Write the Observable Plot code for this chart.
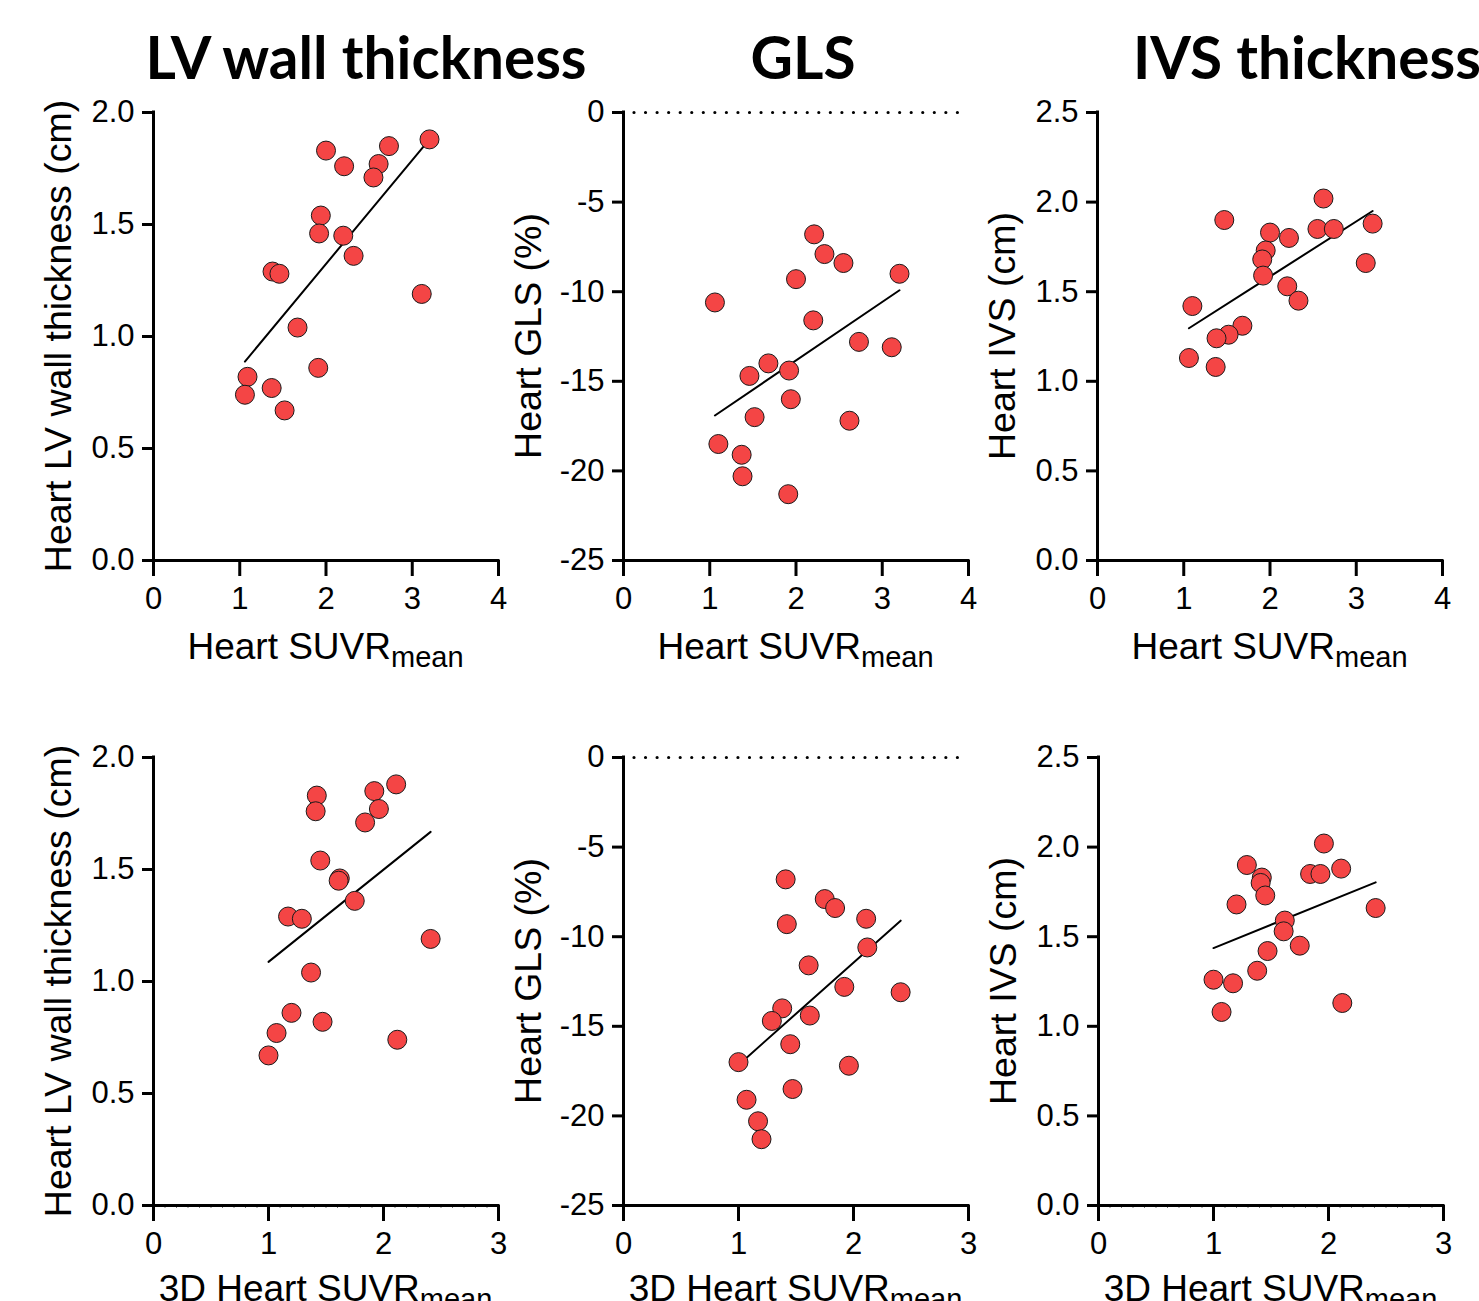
<!DOCTYPE html>
<html>
<head>
<meta charset="utf-8">
<script src="https://cdn.jsdelivr.net/npm/d3@7"></script>
<script src="https://cdn.jsdelivr.net/npm/@observablehq/plot@0.6"></script>
<style>
  body { margin: 0; background: #fff; }
  #root { position: relative; width: 1479px; height: 1301px; overflow: hidden; background: #fff; }
  .panel { position: absolute; }
  #titles { position: absolute; left: 0; top: 0; }
</style>
</head>
<body>
<div id="root"></div>
<script>
// ---------- Data ----------
// Top row: Heart SUVRmean
const suvrLV = [2.00, 2.21, 2.73, 2.61, 2.55, 3.20, 1.94, 1.92, 2.20, 2.32, 1.38, 1.46, 3.11, 1.67, 1.91, 1.09, 1.06, 1.37, 1.52];
const lvWall = [1.83, 1.76, 1.85, 1.77, 1.71, 1.88, 1.54, 1.46, 1.45, 1.36, 1.29, 1.28, 1.19, 1.04, 0.86, 0.82, 0.74, 0.77, 0.67];

const suvrGLS = [2.21, 2.33, 2.55, 3.20, 2.00, 1.06, 2.20, 2.73, 3.11, 1.68, 1.46, 1.92, 1.94, 1.52, 2.62, 1.10, 1.37, 1.38, 1.91];
const gls     = [-6.8, -7.9, -8.4, -9.0, -9.3, -10.6, -11.6, -12.8, -13.1, -14.0, -14.7, -14.4, -16.0, -17.0, -17.2, -18.5, -19.1, -20.3, -21.3];

const suvrIVS = [2.62, 1.47, 3.19, 2.55, 2.74, 2.00, 2.22, 1.95, 1.91, 3.11, 1.92, 2.20, 2.33, 1.10, 1.68, 1.52, 1.38, 1.06, 1.37];
const ivs     = [2.02, 1.90, 1.88, 1.85, 1.85, 1.83, 1.80, 1.73, 1.68, 1.66, 1.59, 1.53, 1.45, 1.42, 1.31, 1.26, 1.24, 1.13, 1.08];

// Bottom row: 3D Heart SUVRmean
const suvr3dLV = [2.11, 1.42, 1.92, 1.41, 1.96, 1.84, 1.45, 1.62, 1.61, 1.75, 1.17, 1.29, 2.41, 1.37, 1.20, 1.47, 1.07, 2.12, 1.00];
const lvWall3d = [1.88, 1.83, 1.85, 1.76, 1.77, 1.71, 1.54, 1.46, 1.45, 1.36, 1.29, 1.28, 1.19, 1.04, 0.86, 0.82, 0.77, 0.74, 0.67];

const suvr3dGLS = [1.41, 1.75, 1.84, 2.11, 1.42, 2.12, 1.61, 1.92, 2.41, 1.38, 1.29, 1.62, 1.45, 1.00, 1.96, 1.47, 1.07, 1.17, 1.20];
const gls3d     = [-6.8, -7.9, -8.4, -9.0, -9.3, -10.6, -11.6, -12.8, -13.1, -14.0, -14.7, -14.4, -16.0, -17.0, -17.2, -18.5, -19.1, -20.3, -21.3];

const suvr3dIVS = [1.96, 1.29, 2.11, 1.84, 1.93, 1.42, 1.41, 1.45, 1.20, 2.41, 1.62, 1.61, 1.75, 1.47, 1.38, 1.00, 1.17, 2.12, 1.07];
const ivs3d     = [2.02, 1.90, 1.88, 1.85, 1.85, 1.83, 1.80, 1.73, 1.68, 1.66, 1.59, 1.53, 1.45, 1.42, 1.31, 1.26, 1.24, 1.13, 1.08];

// Titles and ticks
const columnTitles = ["LV wall thickness", "GLS", "IVS thickness"];
const yLabels = ["Heart LV wall thickness (cm)", "Heart GLS (%)", "Heart IVS (cm)"];
const xLabelTop = "Heart SUVR";
const xLabelBottom = "3D Heart SUVR";
const xSub = "mean";
const xTicksTop = [0, 1, 2, 3, 4];
const xTicksBottom = [0, 1, 2, 3];
const minorTicksBottom = [0.1,0.2,0.3,0.4,0.5,0.6,0.7,0.8,0.9,1.1,1.2,1.3,1.4,1.5,1.6,1.7,1.8,1.9,2.1,2.2,2.3,2.4,2.5,2.6,2.7,2.8,2.9];
const yTicksLV = [0, 0.5, 1.0, 1.5, 2.0];
const yTicksGLS = [-25, -20, -15, -10, -5, 0];
const yTicksIVS = [0, 0.5, 1.0, 1.5, 2.0, 2.5];

// ---------- Rendering ----------
const root = document.getElementById("root");
const W = 520, ML = 153, MR = 22, MT = 22;
const FONT = "'Liberation Sans', Arial, Helvetica, sans-serif";

function makePanel(cfg) {
  const data = cfg.x.map((v, i) => ({x: v, y: cfg.y[i]}));
  const marks = [];
  if (cfg.zeroLine) {
    marks.push(Plot.ruleY([0], {stroke: "black", strokeWidth: 3.2, strokeDasharray: "0 11.55", strokeLinecap: "round", insetLeft: 11, insetRight: 9}));
  }
  marks.push(Plot.linearRegressionY(data, {x: "x", y: "y", ci: 0, stroke: "black", strokeWidth: 2}));
  if (cfg.minorTicks) {
    marks.push(Plot.axisX({ticks: cfg.minorTicks, tickSize: 3, strokeWidth: 1, stroke: "#777", tickFormat: () => "", label: null}));
  }
  marks.push(Plot.axisX({ticks: cfg.xTicks, tickSize: 16, tickPadding: 10, strokeWidth: 3, fontSize: 31, tickFormat: d => String(d), label: null}));
  marks.push(Plot.axisY({ticks: cfg.yTicks, tickSize: 11, tickPadding: 8, strokeWidth: 3, fontSize: 31, tickFormat: cfg.yFormat, label: null}));
  marks.push(Plot.ruleX([cfg.xDomain[0]], {stroke: "black", strokeWidth: 3, strokeLinecap: "square"}));
  marks.push(Plot.ruleY([cfg.yDomain[0]], {stroke: "black", strokeWidth: 3, strokeLinecap: "square"}));
  marks.push(Plot.dot(data, {x: "x", y: "y", r: 9.5, fill: "#F44545", stroke: "#1a1a1a", strokeWidth: 1}));

  const svg = Plot.plot({
    width: W,
    height: cfg.height,
    marginLeft: ML, marginRight: MR, marginTop: MT, marginBottom: cfg.marginBottom,
    x: {domain: cfg.xDomain},
    y: {domain: cfg.yDomain},
    style: {fontFamily: FONT, color: "black", background: "transparent", overflow: "visible"},
    marks
  });

  const s = d3.select(svg);
  const fx0 = ML, fx1 = W - MR, fy0 = MT, fy1 = cfg.height - cfg.marginBottom;
  s.append("text")
    .attr("transform", `translate(${fx0 - 96},${(fy0 + fy1) / 2}) rotate(-90)`)
    .attr("text-anchor", "middle")
    .attr("dy", "0.36em")
    .attr("font-size", 37.5)
    .attr("font-family", FONT)
    .attr("fill", "black")
    .text(cfg.yLabel);
  const xl = s.append("text")
    .attr("x", (fx0 + fx1) / 2)
    .attr("y", fy1 + cfg.xLabelOffset)
    .attr("text-anchor", "middle")
    .attr("font-size", 37)
    .attr("font-family", FONT)
    .attr("fill", "black");
  xl.append("tspan").text(cfg.xLabel);
  xl.append("tspan").attr("font-size", 29).attr("dy", 8).text(xSub);

  const wrap = document.createElement("div");
  wrap.className = "panel";
  wrap.style.left = cfg.left + "px";
  wrap.style.top = cfg.top + "px";
  wrap.appendChild(svg);
  root.appendChild(wrap);
}

const fmt1 = d3.format(".1f");
const fmtInt = d => String(d);
const TOP = {top: 90, height: 600, marginBottom: 130, xDomain: [0, 4], xTicks: xTicksTop, xLabel: xLabelTop, xLabelOffset: 99};
const BOT = {top: 735, height: 566, marginBottom: 96, xDomain: [0, 3], xTicks: xTicksBottom, xLabel: xLabelBottom, xLabelOffset: 96};

makePanel({...TOP, left: 0,   x: suvrLV,  y: lvWall, yDomain: [0, 2],   yTicks: yTicksLV,  yFormat: fmt1,   yLabel: yLabels[0]});
makePanel({...TOP, left: 470, x: suvrGLS, y: gls,    yDomain: [-25, 0], yTicks: yTicksGLS, yFormat: fmtInt, yLabel: yLabels[1], zeroLine: true});
makePanel({...TOP, left: 944, x: suvrIVS, y: ivs,    yDomain: [0, 2.5], yTicks: yTicksIVS, yFormat: fmt1,   yLabel: yLabels[2]});

makePanel({...BOT, left: 0,   x: suvr3dLV,  y: lvWall3d, yDomain: [0, 2],   yTicks: yTicksLV,  yFormat: fmt1,   yLabel: yLabels[0], minorTicks: minorTicksBottom});
makePanel({...BOT, left: 470, x: suvr3dGLS, y: gls3d,    yDomain: [-25, 0], yTicks: yTicksGLS, yFormat: fmtInt, yLabel: yLabels[1], zeroLine: true});
makePanel({...BOT, left: 945, x: suvr3dIVS, y: ivs3d,    yDomain: [0, 2.5], yTicks: yTicksIVS, yFormat: fmt1,   yLabel: yLabels[2], minorTicks: minorTicksBottom});

// Column titles
const tsvg = d3.select(root).append("svg").attr("id", "titles").attr("width", 1479).attr("height", 100);
const titleX = [366, 803, 1307];
columnTitles.forEach((t, i) => {
  tsvg.append("text")
    .attr("x", titleX[i]).attr("y", 79)
    .attr("text-anchor", "middle")
    .attr("font-family", "Lato, 'Open Sans', sans-serif")
    .attr("font-weight", 700)
    .attr("font-size", 58.5)
    .attr("fill", "black")
    .text(t);
});
</script>
</body>
</html>
